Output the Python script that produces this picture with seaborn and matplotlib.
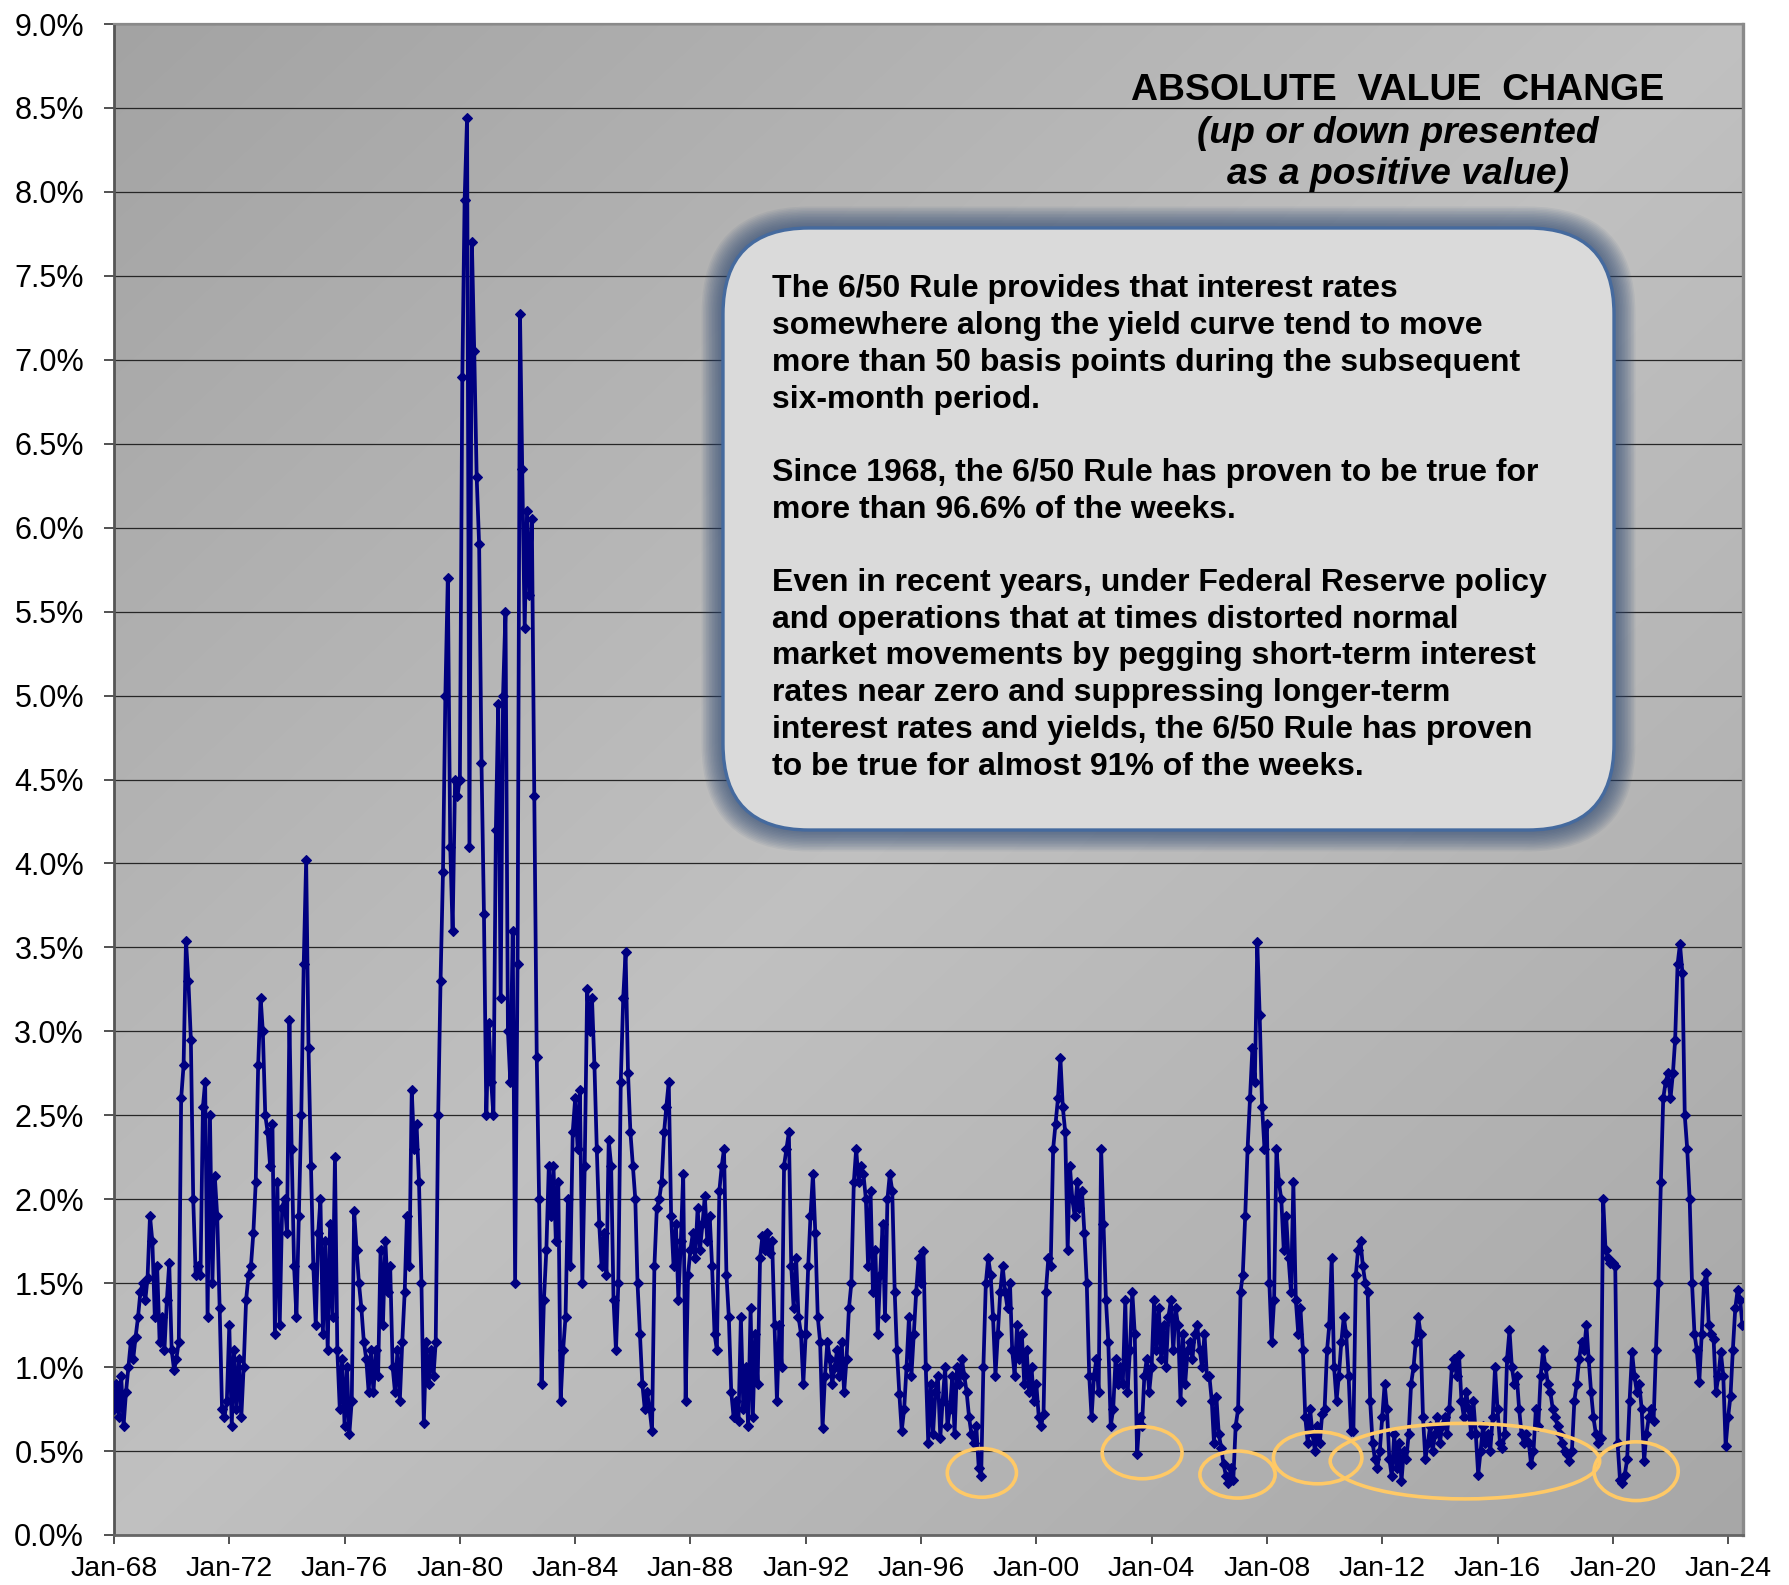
import numpy as np
import pandas as pd
import matplotlib
matplotlib.use("Agg")
import matplotlib.pyplot as plt
import matplotlib.dates as mdates
import matplotlib.ticker as mticker
from matplotlib.patches import FancyBboxPatch, Ellipse
from matplotlib.transforms import IdentityTransform
from matplotlib import font_manager
import seaborn as sns

# ---------------- data: monthly readings of the absolute 6-month change (%) ----------------
start_month = "1968-01-01"

v_1968_1969 = [
    0.75, 0.90, 0.70, 0.95, 0.65, 0.85, 1.00, 1.15, 1.05, 1.18, 1.30, 1.45,  # 1968
    1.50, 1.40, 1.53, 1.90, 1.75, 1.30, 1.60, 1.15, 1.30, 1.10, 1.40, 1.62,  # 1969
]
v_1970s = [
    1.10, 0.98, 1.05, 1.15, 2.60, 2.80, 3.54, 3.30, 2.95, 2.00, 1.55, 1.60,  # 1970
    1.55, 2.55, 2.70, 1.30, 2.50, 1.50, 2.14, 1.90, 1.35, 0.75, 0.70, 0.80,  # 1971
    1.25, 0.65, 1.10, 0.75, 1.05, 0.70, 1.00, 1.40, 1.55, 1.60, 1.80, 2.10,  # 1972
    2.80, 3.20, 3.00, 2.50, 2.40, 2.20, 2.45, 1.20, 2.10, 1.25, 1.95, 2.00,  # 1973
    1.80, 3.07, 2.30, 1.60, 1.30, 1.90, 2.50, 3.40, 4.02, 2.90, 2.20, 1.60,  # 1974
    1.25, 1.80, 2.00, 1.20, 1.75, 1.10, 1.85, 1.30, 2.25, 1.10, 0.75, 1.05,  # 1975
    0.65, 1.00, 0.60, 0.80, 1.93, 1.70, 1.50, 1.35, 1.15, 1.05, 0.85, 1.10,  # 1976
    0.85, 1.10, 0.95, 1.70, 1.25, 1.75, 1.45, 1.60, 1.00, 0.85, 1.10, 0.80,  # 1977
    1.15, 1.45, 1.90, 1.60, 2.65, 2.30, 2.45, 2.10, 1.50, 0.67, 1.15, 0.90,  # 1978
    1.10, 0.95, 1.15, 2.50, 3.30, 3.95, 5.00, 5.70, 4.10, 3.60, 4.50, 4.40,  # 1979
]
v_1980s = [
    4.50, 6.90, 7.95, 8.44, 4.10, 7.70, 7.05, 6.30, 5.90, 4.60, 3.70, 2.50,  # 1980
    3.05, 2.70, 2.50, 4.20, 4.95, 3.20, 5.00, 5.50, 3.00, 2.70, 3.60, 1.50,  # 1981
    3.40, 7.27, 6.35, 5.40, 6.10, 5.60, 6.05, 4.40, 2.85, 2.00, 0.90, 1.40,  # 1982
    1.70, 2.20, 1.90, 2.20, 1.75, 2.10, 0.80, 1.10, 1.30, 2.00, 1.60, 2.40,  # 1983
    2.60, 2.30, 2.65, 1.50, 2.20, 3.25, 3.00, 3.20, 2.80, 2.30, 1.85, 1.60,  # 1984
    1.80, 1.55, 2.35, 2.20, 1.40, 1.10, 1.50, 2.70, 3.20, 3.47, 2.75, 2.40,  # 1985
    2.20, 2.00, 1.50, 1.20, 0.90, 0.75, 0.85, 0.75, 0.62, 1.60, 1.95, 2.00,  # 1986
    2.10, 2.40, 2.55, 2.70, 1.90, 1.60, 1.85, 1.40, 1.75, 2.15, 0.80, 1.55,  # 1987
    1.70, 1.80, 1.65, 1.95, 1.70, 1.85, 2.02, 1.75, 1.90, 1.60, 1.20, 1.10,  # 1988
    2.05, 2.20, 2.30, 1.55, 1.30, 0.85, 0.70, 0.80, 0.68, 1.30, 0.75, 1.00,  # 1989
]
v_1990s = [
    0.65, 1.35, 0.70, 1.20, 0.90, 1.65, 1.78, 1.70, 1.80, 1.68, 1.75, 1.25,  # 1990
    0.80, 1.25, 1.00, 2.20, 2.30, 2.40, 1.60, 1.35, 1.65, 1.30, 1.20, 0.90,  # 1991
    1.20, 1.60, 1.90, 2.15, 1.80, 1.30, 1.15, 0.64, 0.95, 1.15, 1.05, 0.90,  # 1992
    1.00, 1.10, 0.95, 1.15, 0.85, 1.05, 1.35, 1.50, 2.10, 2.30, 2.10, 2.20,  # 1993
    2.15, 2.00, 1.60, 2.05, 1.45, 1.70, 1.20, 1.55, 1.85, 1.30, 2.00, 2.15,  # 1994
    2.05, 1.45, 1.10, 0.84, 0.62, 0.75, 1.00, 1.30, 0.95, 1.20, 1.45, 1.65,  # 1995
    1.50, 1.69, 1.00, 0.55, 0.90, 0.60, 0.85, 0.95, 0.58, 0.80, 1.00, 0.65,  # 1996
    0.75, 0.95, 0.60, 1.00, 0.90, 1.05, 0.95, 0.85, 0.70, 0.60, 0.55, 0.65,  # 1997
    0.40, 0.35, 1.00, 1.50, 1.65, 1.55, 1.30, 0.95, 1.20, 1.45, 1.60, 1.45,  # 1998
    1.35, 1.50, 1.10, 0.95, 1.25, 1.05, 1.20, 0.90, 1.10, 0.85, 1.00, 0.80,  # 1999
]
v_2000s = [
    0.90, 0.70, 0.65, 0.72, 1.45, 1.65, 1.60, 2.30, 2.45, 2.60, 2.84, 2.55,  # 2000
    2.40, 1.70, 2.20, 2.00, 1.90, 2.10, 1.95, 2.05, 1.80, 1.50, 0.95, 0.70,  # 2001
    0.95, 1.05, 0.85, 2.30, 1.85, 1.40, 1.15, 0.65, 0.75, 1.05, 0.90, 1.00,  # 2002
    0.90, 1.40, 0.85, 1.10, 1.45, 1.20, 0.48, 0.70, 0.65, 0.95, 1.05, 0.85,  # 2003
    1.00, 1.40, 1.10, 1.35, 1.05, 1.25, 1.00, 1.30, 1.40, 1.10, 1.35, 1.25,  # 2004
    0.80, 1.20, 0.90, 1.10, 1.15, 1.05, 1.20, 1.25, 1.10, 1.00, 1.20, 0.95,  # 2005
    0.95, 0.80, 0.55, 0.82, 0.60, 0.52, 0.42, 0.35, 0.31, 0.40, 0.33, 0.65,  # 2006
    0.75, 1.45, 1.55, 1.90, 2.30, 2.60, 2.90, 2.70, 3.53, 3.10, 2.55, 2.30,  # 2007
    2.45, 1.50, 1.15, 1.40, 2.30, 2.10, 2.00, 1.70, 1.90, 1.65, 1.45, 2.10,  # 2008
    1.40, 1.20, 1.35, 1.10, 0.70, 0.55, 0.75, 0.60, 0.50, 0.65, 0.55, 0.72,  # 2009
]
v_2010s = [
    0.75, 1.10, 1.25, 1.65, 1.00, 0.80, 0.95, 1.15, 1.30, 1.20, 0.95, 0.62,  # 2010
    0.62, 1.55, 1.70, 1.75, 1.60, 1.50, 1.45, 0.80, 0.55, 0.45, 0.40, 0.50,  # 2011
    0.70, 0.90, 0.75, 0.45, 0.35, 0.60, 0.40, 0.55, 0.32, 0.50, 0.45, 0.60,  # 2012
    0.90, 1.00, 1.15, 1.30, 1.20, 0.70, 0.45, 0.55, 0.65, 0.50, 0.60, 0.70,  # 2013
    0.55, 0.65, 0.70, 0.60, 0.75, 1.00, 1.05, 0.95, 1.07, 0.80, 0.70, 0.85,  # 2014
    0.75, 0.60, 0.80, 0.60, 0.36, 0.50, 0.65, 0.55, 0.60, 0.50, 0.70, 1.00,  # 2015
    0.75, 0.55, 0.52, 0.60, 1.05, 1.22, 1.00, 0.90, 0.95, 0.75, 0.60, 0.55,  # 2016
    0.60, 0.55, 0.42, 0.50, 0.75, 0.65, 0.95, 1.10, 1.00, 0.90, 0.85, 0.75,  # 2017
    0.70, 0.65, 0.60, 0.55, 0.50, 0.48, 0.44, 0.50, 0.80, 0.90, 1.05, 1.15,  # 2018
    1.10, 1.25, 1.05, 0.85, 0.70, 0.60, 0.55, 0.58, 2.00, 1.70, 1.65, 1.62,  # 2019
]
v_2020s = [
    1.62, 1.60, 0.55, 0.33, 0.31, 0.36, 0.45, 0.80, 1.09, 0.95, 0.85, 0.90,  # 2020
    0.75, 0.44, 0.60, 0.70, 0.75, 0.68, 1.10, 1.50, 2.10, 2.60, 2.70, 2.75,  # 2021
    2.60, 2.75, 2.95, 3.40, 3.52, 3.35, 2.50, 2.30, 2.00, 1.50, 1.20, 1.10,  # 2022
    0.91, 1.20, 1.50, 1.56, 1.25, 1.20, 1.17, 0.85, 0.95, 1.09, 0.95, 0.53,  # 2023
    0.70, 0.83, 1.10, 1.35, 1.46, 1.40, 1.25,                                # 2024 (Jan-Jul)
]

values = v_1968_1969 + v_1970s + v_1980s + v_1990s + v_2000s + v_2010s + v_2020s
dates = pd.date_range(start_month, periods=len(values), freq="MS")

tick_years = list(range(1968, 2025, 4))
y_ticks = [i * 0.5 for i in range(19)]

title_text = "ABSOLUTE  VALUE  CHANGE"
subtitle_lines = ["(up or down presented", "as a positive value)"]
box_lines = [
    "The 6/50 Rule provides that interest rates",
    "somewhere along the yield curve tend to move",
    "more than 50 basis points during the subsequent",
    "six-month period.",
    "",
    "Since 1968, the 6/50 Rule has proven to be true for",
    "more than 96.6% of the weeks.",
    "",
    "Even in recent years, under Federal Reserve policy",
    "and operations that at times distorted normal",
    "market movements by pegging short-term interest",
    "rates near zero and suppressing longer-term",
    "interest rates and yields, the 6/50 Rule has proven",
    "to be true for almost 91% of the weeks.",
]

# highlight ellipses: centre (decimal year), centre value (%), width (years), height (%)
ellipse_specs = [
    (1998.11, 0.37, 2.40, 0.29),
    (2003.67, 0.49, 2.77, 0.31),
    (2006.98, 0.36, 2.61, 0.28),
    (2009.76, 0.46, 3.07, 0.31),
    (2014.87, 0.44, 9.35, 0.45),
    (2020.81, 0.38, 2.92, 0.35),
]

# ---------------- styling ----------------
sns.set_theme(style="ticks")
plt.rcParams["font.family"] = ["Liberation Sans", "DejaVu Sans"]
font_names = {f.name for f in font_manager.fontManager.ttflist}
narrow = "Liberation Sans Narrow" if "Liberation Sans Narrow" in font_names else "Liberation Sans"

W, H = 1790, 1585
fig = plt.figure(figsize=(W / 100, H / 100), dpi=100, facecolor="white")
L, R, T, B = 114, 1743, 24, 1535
ax = fig.add_axes([L / W, 1 - B / H, (R - L) / W, (B - T) / H])

df = pd.DataFrame({"date": dates, "change": values})
NAVY = "#000080"
sns.lineplot(data=df, x="date", y="change", ax=ax, color=NAVY, linewidth=2.7,
             marker="D", markersize=4.6, markeredgewidth=0.8, markeredgecolor=NAVY,
             estimator=None, sort=False, zorder=3)

# diagonal grey gradient for the plot area
n = 400
jj, ii = np.meshgrid(np.linspace(0, 1, n), np.linspace(0, 1, n))
t = (jj + ii) / 2.0
dark_tl, light, dark_br = 0.640, 0.755, 0.655
g = np.where(t < 0.5, dark_tl + (light - dark_tl) * (t / 0.5),
             light + (dark_br - light) * ((t - 0.5) / 0.5))
ax.imshow(np.dstack([g, g, g]), extent=(0, 1, 0, 1), transform=ax.transAxes,
          aspect="auto", zorder=0, interpolation="bilinear")

ax.set_xlim(pd.Timestamp("1968-01-01"), pd.Timestamp("2024-07-08"))
ax.set_ylim(0, 9)
ax.set_yticks(y_ticks)
ax.yaxis.set_major_formatter(mticker.FuncFormatter(lambda v, p: f"{v:.1f}%"))
ax.set_xticks([pd.Timestamp(f"{y}-01-01") for y in tick_years])
ax.xaxis.set_major_formatter(mdates.DateFormatter("%b-%y"))
ax.set_xlabel("")
ax.set_ylabel("")

ax.set_axisbelow(True)
ax.yaxis.grid(True, color="#262626", linewidth=0.9)
ax.xaxis.grid(False)

ax.tick_params(axis="y", left=True, direction="out", length=7.2, width=1.2,
               color="#333333", pad=14.4, labelsize=22, labelcolor="black")
ax.tick_params(axis="x", bottom=True, direction="out", length=6.5, width=1.2,
               color="#333333", pad=8.5, labelsize=20.5, labelcolor="black")

ax.spines["left"].set_color("#555555")
ax.spines["left"].set_linewidth(2.0)
ax.spines["bottom"].set_color("#666666")
ax.spines["bottom"].set_linewidth(2.0)
ax.spines["right"].set_color("#8a8a8a")
ax.spines["right"].set_linewidth(2.4)
ax.spines["top"].set_color("#8a8a8a")
ax.spines["top"].set_linewidth(1.6)

# highlight ellipses
base = pd.Timestamp("1968-01-01")
for cx, cy, w, h in ellipse_specs:
    cdate = mdates.date2num(base + pd.Timedelta(days=(cx - 1968) * 365.25))
    ax.add_patch(Ellipse((cdate, cy), width=w * 365.25, height=h, fill=False,
                         edgecolor="#FFC966", linewidth=2.6, zorder=4))

# rounded text box with a soft blue-grey glow (pixel coordinates)
bx0, bx1, by0, by1 = 723, 1614, 228, 830
rad = 86
bw, bh = bx1 - bx0, by1 - by0
for i in range(14):
    pad = 2 + 1.5 * i
    fig.add_artist(FancyBboxPatch((bx0, H - by1), bw, bh,
                                  boxstyle=f"round,pad={pad},rounding_size={rad + pad}",
                                  transform=IdentityTransform(), facecolor="#2d4872",
                                  edgecolor="none", alpha=0.065, zorder=2))
fig.add_artist(FancyBboxPatch((bx0, H - by1), bw, bh,
                              boxstyle=f"round,pad=0,rounding_size={rad}",
                              transform=IdentityTransform(), facecolor="#dadada",
                              edgecolor="#456a9e", linewidth=2.4, zorder=3))


def fx(px):
    return px / W


def fy(py):
    return 1 - py / H


title_t = fig.text(fx(1398), fy(100.5), title_text, ha="center", va="baseline",
                   fontsize=27, fontweight="bold", color="black", zorder=5)
sub_ts = [fig.text(fx(1398), fy(b), s, ha="center", va="baseline", fontsize=27,
                   fontweight="bold", fontstyle="italic", color="black", zorder=5)
          for s, b in zip(subtitle_lines, [143.3, 183.5])]
box_ts = []
for i, line in enumerate(box_lines):
    if line:
        box_ts.append(fig.text(fx(772), fy(297.5 + 36.7 * i), line, ha="left",
                               va="baseline", fontsize=22, fontweight="bold",
                               family=[narrow, "DejaVu Sans"], color="black", zorder=5))

renderer = fig.canvas.get_renderer()


def fit(group, ref, target):
    k = target / ref.get_window_extent(renderer).width
    for tt in group:
        tt.set_fontsize(tt.get_fontsize() * k)


fit([title_t], title_t, 533)
fit(sub_ts, sub_ts[0], 401)
fit(box_ts, box_ts[6], 774)

fig.savefig("out.png", dpi=100, facecolor="white")
